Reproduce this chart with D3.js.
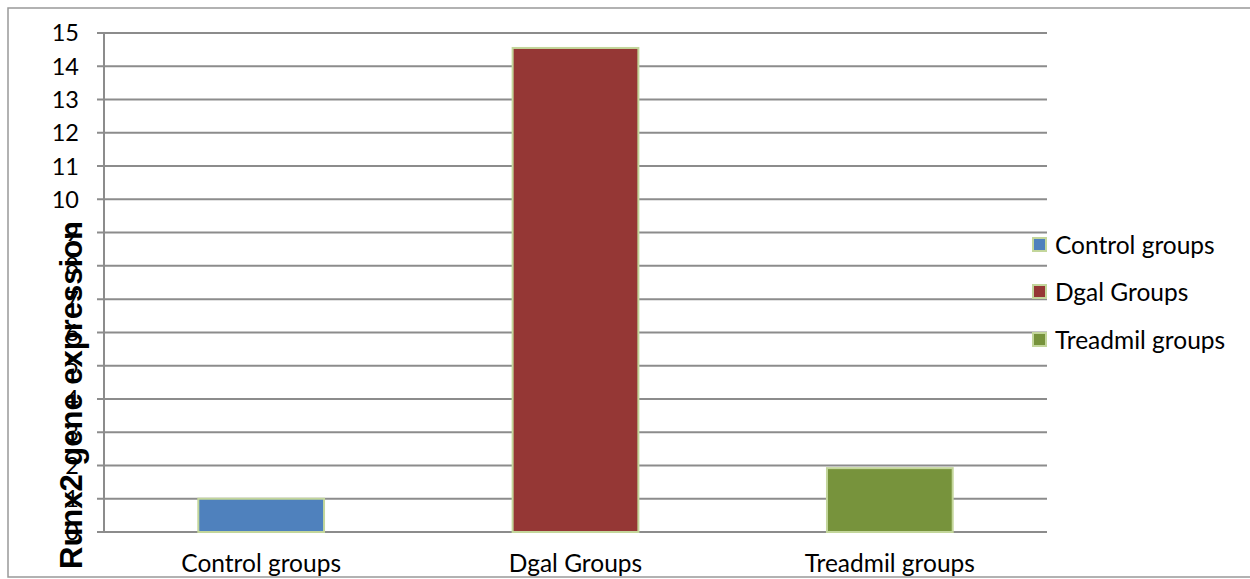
<!DOCTYPE html>
<html>
<head>
<meta charset="utf-8">
<script src="https://cdn.jsdelivr.net/npm/d3@7"></script>
<style>
  html, body { margin: 0; padding: 0; background: #fff; }
  svg { display: block; }
</style>
</head>
<body>
<svg id="chart" width="1250" height="579"></svg>
<script>
// Runx2 gene expression per group
const categories = ["Control groups", "Dgal Groups", "Treadmil groups"];
const values = [1, 14.55, 1.92];
const colors = ["#4f81bd", "#953735", "#77933c"];
const yTicks = d3.range(0, 16);
const yTitle = "Runx2 gene expression";

const svg = d3.select("#chart");
const W = 1250, H = 579;
const plot = { left: 104, right: 1047, top: 33, bottom: 532 };
const labelFont = "Lato, 'Open Sans', sans-serif";

// outer frame
svg.append("rect")
  .attr("x", 8).attr("y", 8)
  .attr("width", W + 10).attr("height", 569)
  .attr("fill", "#fff")
  .attr("stroke", "#999").attr("stroke-width", 1.5);

const x = d3.scaleBand()
  .domain(categories)
  .range([plot.left, plot.right])
  .paddingInner(0.6)
  .paddingOuter(0.3);

const y = d3.scaleLinear()
  .domain([0, 15])
  .range([plot.bottom, plot.top]);

// horizontal gridlines with outward tick stubs
svg.append("g")
  .selectAll("line")
  .data(yTicks)
  .join("line")
  .attr("x1", plot.left - 7)
  .attr("x2", plot.right)
  .attr("y1", d => y(d))
  .attr("y2", d => y(d))
  .attr("stroke", "#8c8c8c")
  .attr("stroke-width", 2);

// vertical axis line
svg.append("line")
  .attr("x1", plot.left).attr("x2", plot.left)
  .attr("y1", y(15)).attr("y2", y(0))
  .attr("stroke", "#8c8c8c").attr("stroke-width", 2);

// y tick labels
svg.append("g")
  .selectAll("text")
  .data(yTicks)
  .join("text")
  .attr("x", 79)
  .attr("y", d => y(d))
  .attr("dy", "0.36em")
  .attr("text-anchor", "end")
  .attr("font-family", labelFont)
  .attr("font-size", 23.5)
  .attr("fill", "#000")
  .text(d => d);

// bars
svg.append("g")
  .selectAll("rect")
  .data(categories)
  .join("rect")
  .attr("x", d => x(d))
  .attr("width", x.bandwidth())
  .attr("y", (d, i) => y(values[i]))
  .attr("height", (d, i) => y(0) - y(values[i]))
  .attr("fill", (d, i) => colors[i])
  .attr("stroke", "#c3d69b")
  .attr("stroke-width", 2);

// category labels
svg.append("g")
  .selectAll("text")
  .data(categories)
  .join("text")
  .attr("x", d => x(d) + x.bandwidth() / 2)
  .attr("y", 572)
  .attr("text-anchor", "middle")
  .attr("font-family", labelFont)
  .attr("font-size", 24.5)
  .attr("fill", "#000")
  .text(d => d);

// legend
const legendY = [245, 292, 340];
const legend = svg.append("g")
  .selectAll("g")
  .data(categories)
  .join("g")
  .attr("transform", (d, i) => `translate(1033, ${legendY[i]})`);
legend.append("rect")
  .attr("x", 0).attr("y", -7)
  .attr("width", 13).attr("height", 13)
  .attr("fill", (d, i) => colors[i])
  .attr("stroke", "#c3d69b").attr("stroke-width", 2);
legend.append("text")
  .attr("x", 22)
  .attr("y", 0)
  .attr("dy", "0.36em")
  .attr("font-family", labelFont)
  .attr("font-size", 24.5)
  .attr("fill", "#000")
  .text(d => d);

// y axis title
svg.append("text")
  .attr("transform", "translate(82, 395) rotate(-90)")
  .attr("text-anchor", "middle")
  .attr("font-family", "'Liberation Sans', Arial, sans-serif")
  .attr("font-weight", "bold")
  .attr("font-size", 31)
  .attr("fill", "#000")
  .text(yTitle);
</script>
</body>
</html>
